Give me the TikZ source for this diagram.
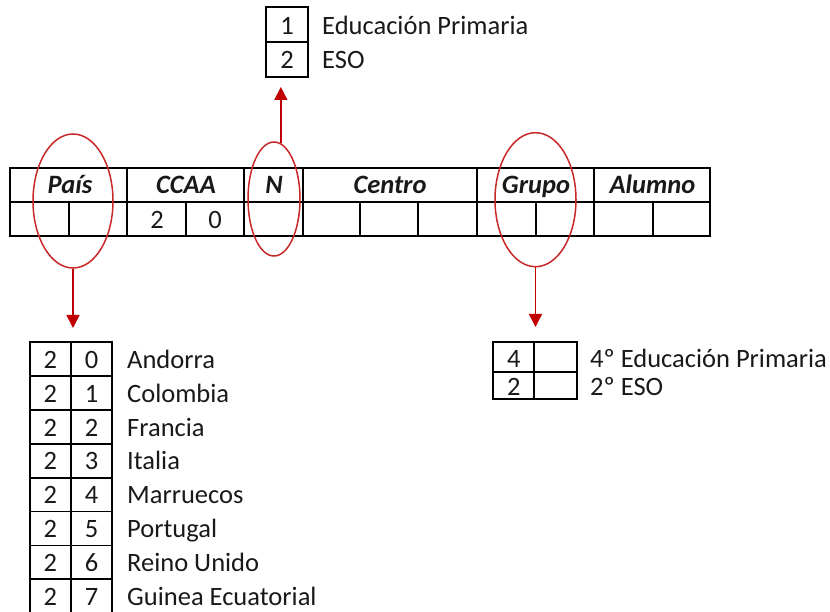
\documentclass[tikz,border=0pt]{standalone}
\usepackage{fontspec}
\setmainfont{Carlito}
\usetikzlibrary{arrows.meta,shapes.geometric}
\definecolor{ovalred}{RGB}{200,40,40}
\definecolor{arrowred}{RGB}{192,0,0}
\definecolor{ink}{RGB}{25,25,25}
\begin{document}
\begin{tikzpicture}[x=1pt,y=-1pt,
  font=\fontsize{26.5}{30}\selectfont,
  grid/.style={line width=1.7pt, draw=black},
  txt/.style={inner sep=0pt, anchor=base, text=ink},
  lbl/.style={inner sep=0pt, anchor=base west, text=ink},
  hdr/.style={inner sep=0pt, anchor=base, text=ink, font=\fontsize{26.5}{30}\selectfont\bfseries\itshape},
  oval/.style={ellipse, draw=ovalred, line width=1.5pt, inner sep=0pt},
  redarrow/.style={draw=arrowred, line width=1.5pt, -{Triangle[width=13pt,length=13pt]}, arrowred}
]
\useasboundingbox (0,0) rectangle (830,612);
\clip (0,0) rectangle (830,612);

% ---------- main table ----------
\draw[grid] (10,167.7) rectangle (710,235.7);
\draw[grid] (10,202.3) -- (710,202.3);
\foreach \x in {127,244,303,477,594} \draw[grid] (\x,167.7) -- (\x,235.7);
\foreach \x in {69,186,360,418,536,653} \draw[grid] (\x,202.3) -- (\x,235.7);

\node[hdr] (hpais)   at (70,194)    {País};
\node[hdr] (hccaa)   at (186,194)   {CCAA};
\node[hdr] (hn)      at (274,194)   {N};
\node[hdr] (hcentro) at (390,194)   {Centro};
\node[hdr] (hgrupo)  at (536,194)   {Grupo};
\node[hdr] (halumno) at (652.5,194) {Alumno};
\node[txt] (cc1) at (157,229) {2};
\node[txt] (cc2) at (215,229) {0};

% ---------- ellipses ----------
\node[oval, minimum width=80pt, minimum height=134pt] (pais)  at (73,201)    {};
\node[oval, minimum width=52pt, minimum height=114pt] (nell)  at (274,199)   {};
\node[oval, minimum width=81pt, minimum height=134pt] (grupo) at (535.5,199.7) {};

% ---------- top table (N) ----------
\draw[grid] (266,7.3) rectangle (308,76.7);
\draw[grid] (266,42.3) -- (308,42.3);
\node[txt] (n1) at (287,35)   {1};
\node[txt] (n2) at (287,68.5) {2};
\node[lbl] (n1l) at (322,35)   {Educación Primaria};
\node[lbl] (n2l) at (322,68.5) {ESO};

% ---------- country table ----------
\foreach \k/\d/\name in {0/0/Andorra,1/1/Colombia,2/2/Francia,3/3/Italia,4/4/Marruecos,5/5/Portugal,6/6/Reino Unido,7/7/Guinea Ecuatorial}{
  \pgfmathsetmacro{\top}{342.3+33.86*\k}
  \pgfmathsetmacro{\bot}{342.3+33.86*(\k+1)}
  \pgfmathsetmacro{\base}{\top+26}
  \draw[grid] (30,\top) rectangle (112.3,\bot);
  \draw[grid] (70.7,\top) -- (70.7,\bot);
  \node[txt] (pa\k) at (50.3,\base) {2};
  \node[txt] (pb\k) at (91.5,\base) {\d};
  \node[lbl] (pl\k) at (127,\base) {\name};
}

% ---------- grupo table ----------
\draw[grid] (493.3,342.3) rectangle (576.7,399.3);
\draw[grid] (493.3,371.7) -- (576.7,371.7);
\draw[grid] (534.3,342.3) -- (534.3,399.3);
\node[txt] (g1) at (513.8,367.3) {4};
\node[txt] (g2) at (513.8,395)   {2};
\node[lbl] (g1l) at (590,367.3) {4º Educación Primaria};
\node[lbl] (g2l) at (590,395)   {2º ESO};

% ---------- arrows ----------
\coordinate (paistip)  at (73,328);
\coordinate (grupotip) at (535.5,327);
\coordinate (ntip)     at (281,87);
\draw[redarrow] (pais.south) -- (paistip);
\draw[redarrow] (grupo.south) -- (grupotip);
\draw[redarrow] (nell.83) -- (nell.83 |- ntip);
\end{tikzpicture}
\end{document}
